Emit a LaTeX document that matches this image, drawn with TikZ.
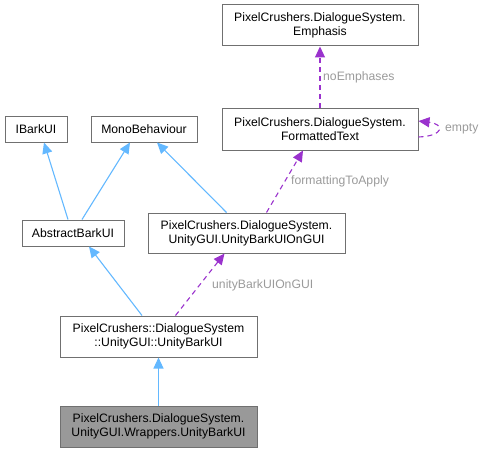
\documentclass[tikz,border=0pt]{standalone}
\usepackage{fontspec}
\setmainfont{Liberation Sans}
\usetikzlibrary{arrows.meta}
\definecolor{inhblue}{HTML}{63B8FF}
\definecolor{usepurple}{HTML}{9A32CD}
\definecolor{boxgray}{HTML}{707070}
\definecolor{labgray}{HTML}{9A9A9A}
\definecolor{fillgray}{HTML}{999999}
\begin{document}
\begin{tikzpicture}[x=1pt,y=-1pt,
  cls/.style={draw=boxgray, line width=1pt, fill=white, rectangle, inner sep=0pt, align=center,
    font=\fontsize{12.2}{14}\selectfont},
  inh/.style={draw=inhblue, line width=1.1pt, -{Triangle[length=11pt,width=10pt]}},
  usage/.style={draw=usepurple, line width=1.1pt, dash pattern=on 5pt off 4pt, -{Triangle[length=11pt,width=10pt]}},
  lab/.style={text=labgray, anchor=west, inner sep=0pt, font=\fontsize{12.2}{14}\selectfont}]
\useasboundingbox (0,0) rectangle (484,452);
\node[cls, minimum width=196pt, minimum height=41pt] (emph) at (320,25.5) {PixelCrushers.DialogueSystem.\\Emphasis};
\node[cls, minimum width=196pt, minimum height=42pt] (fmt) at (320,129) {PixelCrushers.DialogueSystem.\\FormattedText};
\node[cls, minimum width=62pt, minimum height=26pt] (ibark) at (36,129) {IBarkUI};
\node[cls, minimum width=106pt, minimum height=26pt] (mono) at (144,129) {MonoBehaviour};
\node[cls, minimum width=102pt, minimum height=26pt] (abs) at (73,233) {AbstractBarkUI};
\node[cls, minimum width=197pt, minimum height=40pt] (ongui) at (246.5,233) {PixelCrushers.DialogueSystem.\\UnityGUI.UnityBarkUIOnGUI};
\node[cls, minimum width=197pt, minimum height=41pt] (ubu) at (158.5,336.5) {PixelCrushers::DialogueSystem\\::UnityGUI::UnityBarkUI};
\node[cls, minimum width=197pt, minimum height=41pt, fill=fillgray] (wrap) at (158.5,426.5) {PixelCrushers.DialogueSystem.\\UnityGUI.Wrappers.UnityBarkUI};

\draw[inh] ([xshift=-5pt]abs.north) -- ([xshift=8pt]ibark.south);
\draw[inh] ([xshift=9pt]abs.north) -- ([xshift=-14pt]mono.south);
\draw[inh] ([xshift=-20pt]ongui.north) -- ([xshift=13pt]mono.south);
\draw[usage] ([xshift=20pt]ongui.north) -- ([xshift=-17pt]fmt.south);
\draw[usage] (fmt.north) -- (emph.south);
\draw[usage] ([yshift=-8pt]fmt.east) .. controls +(26pt,1pt) and +(26pt,-3pt) .. ([yshift=8pt]fmt.east);
\draw[usage] ([xshift=17pt]ubu.north) -- ([xshift=-22pt]ongui.south);
\draw[inh] ([xshift=-16.5pt]ubu.north) -- ([xshift=16pt]abs.south);
\draw[inh] (wrap.north) -- (ubu.south);

\node[lab] (l1) at (323,77) {noEmphases};
\node[lab] (l2) at (291,181) {formattingToApply};
\node[lab] (l3) at (212,285) {unityBarkUIOnGUI};
\node[lab] (l4) at (445,129) {empty};
\end{tikzpicture}
\end{document}
